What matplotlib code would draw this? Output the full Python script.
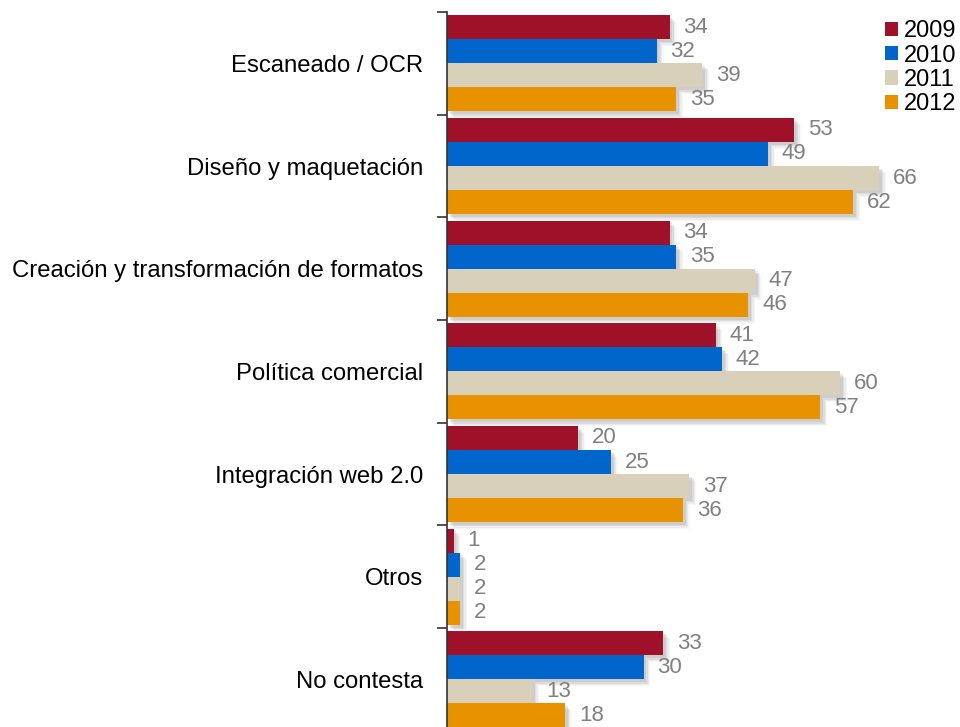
import matplotlib
matplotlib.use("Agg")
import matplotlib.pyplot as plt
import matplotlib.patheffects as pe
import numpy as np

plt.rcParams['font.family'] = ['Liberation Sans', 'DejaVu Sans']

categories = ["Escaneado / OCR", "Diseño y maquetación",
              "Creación y transformación de formatos", "Política comercial",
              "Integración web 2.0", "Otros", "No contesta"]
years = ["2009", "2010", "2011", "2012"]
v2009 = [34, 53, 34, 41, 20, 1, 33]
v2010 = [32, 49, 35, 42, 25, 2, 30]
v2011 = [39, 66, 47, 60, 37, 2, 13]
v2012 = [35, 62, 46, 57, 36, 2, 18]
series = [v2009, v2010, v2011, v2012]
colors = ["#9E1128", "#0066CC", "#D8D0B8", "#E89200"]

fig = plt.figure(figsize=(9.6, 7.27), dpi=100)
ax_left = 447 / 960
ax_w = (958 - 447) / 960
ax_top = 1 - 12 / 727
ax_h = 718.7 / 727
ax = fig.add_axes([ax_left, ax_top - ax_h, ax_w, ax_h])

n = len(categories)
bar_h = 0.234
centers = np.arange(n)
shadow = [pe.SimplePatchShadow(offset=(o, -o), shadow_rgbFace='#999999', alpha=a)
          for o, a in [(5, 0.08), (4, 0.12), (3, 0.18), (2, 0.22)]] + [pe.Normal()]
for i, (vals, col, yr) in enumerate(zip(series, colors, years)):
    ys = centers + (i - 1.5) * bar_h
    bars = ax.barh(ys, vals, height=bar_h, color=col, label=yr, zorder=3)
    for b in bars:
        b.set_path_effects(shadow)
    for y, v in zip(ys, vals):
        ax.annotate(str(v), (v, y), xytext=(10, 0), textcoords='offset points',
                    ha='left', va='center', fontsize=16, color='#808080', zorder=4)

unit_px = 6.55
ax.set_xlim(0, (958 - 447) / unit_px)
ax.set_ylim(n - 0.5, -0.5)

ax.set_yticks(np.arange(n + 1) - 0.5)
ax.set_yticklabels([])
ax.set_yticks(centers, minor=True)
ax.set_yticklabels(categories, minor=True, fontsize=17.2)
ax.tick_params(axis='y', which='major', length=7, width=1.2, color='#333333', direction='out')
ax.tick_params(axis='y', which='minor', length=0, pad=17)
ax.set_xticks([])
for s in ['top', 'right', 'bottom']:
    ax.spines[s].set_visible(False)
ax.spines['left'].set_color('#333333')
ax.spines['left'].set_linewidth(1.2)
ax.spines['left'].set_zorder(5)

leg = ax.legend(loc='upper right', bbox_to_anchor=(1.02, 1.005), frameon=False,
                fontsize=17, handlelength=0.55, handleheight=0.55,
                handletextpad=0.25, labelspacing=0.1, borderaxespad=0.1)
for h in leg.legend_handles:
    h.set_path_effects([])

fig.savefig("out.png", dpi=100)
